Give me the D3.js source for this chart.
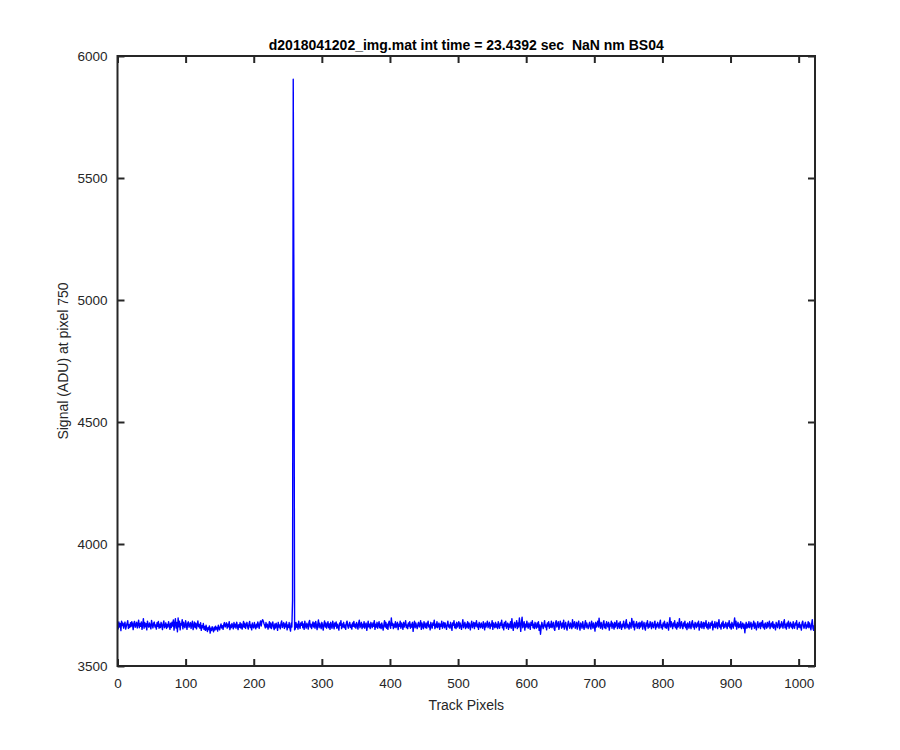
<!DOCTYPE html>
<html><head><meta charset="utf-8">
<script src="https://cdn.jsdelivr.net/npm/d3@7"></script>
<style>body{margin:0;background:#fff}text{font-family:"Liberation Sans",Arial,sans-serif;fill:#262626}</style>
</head><body>
<svg id="c" width="900" height="750"></svg>
<script>
const titleText = "d2018041202_img.mat int time = 23.4392 sec  NaN nm BS04";
const xLabel = "Track Pixels";
const yLabel = "Signal (ADU) at pixel 750";
const xTicks = [0,100,200,300,400,500,600,700,800,900,1000];
const yTicks = [3500,4000,4500,5000,5500,6000];
const xDomain = [0,1024];
const yDomain = [3500,6000];
const signal = [
3678,3652,3681,3660,3674,3645,3684,3666,3676,3655,3670,3680,3651,3664,3673,3686,3654,3669,3658,3677,3662,3682,3671,3649,3675,3683,3659,3668,3679,3656,3672,3688,
3657,3674,3663,3681,3650,3669,3694,3655,3678,3661,3673,3648,3684,3667,3659,3676,3664,3652,3687,3670,3656,3675,3680,3660,3668,3651,3677,3663,3683,3655,3671,3658,
3679,3667,3649,3673,3685,3657,3664,3677,3654,3670,3660,3682,3666,3650,3675,3658,3680,3664,3689,3647,3671,3694,3656,3678,3640,3697,3661,3684,3648,3674,3668,3690,
3652,3680,3664,3657,3686,3670,3650,3675,3681,3659,3667,3678,3654,3671,3684,3649,3664,3680,3658,3675,3652,3668,3685,3661,3670,3655,3677,3646,3665,3657,3674,3650,
3662,3646,3667,3652,3641,3658,3649,3664,3635,3655,3645,3661,3650,3640,3659,3647,3663,3651,3658,3643,3667,3654,3648,3662,3672,3656,3665,3650,3670,3678,3660,3667,
3677,3655,3671,3661,3682,3649,3668,3657,3674,3664,3652,3678,3660,3671,3655,3680,3664,3649,3669,3659,3678,3656,3672,3651,3665,3683,3659,3675,3654,3668,3679,3661,
3651,3672,3683,3658,3668,3648,3676,3661,3656,3678,3664,3652,3671,3659,3681,3667,3654,3675,3685,3664,3682,3690,3684,3674,3666,3656,3678,3660,3671,3651,3665,3682,
3657,3676,3653,3668,3681,3660,3649,3672,3656,3675,3664,3646,3679,3660,3668,3652,3675,3685,3658,3668,3678,3654,3672,3661,3681,3648,3668,3658,3678,3655,3643,3675,
3660,3768,5905,5010,3648,3652,3678,3659,3671,3651,3684,3664,3654,3676,3667,3682,3657,3672,3650,3684,3665,3655,3675,3668,3651,3678,3687,3660,3671,3653,3668,3681,
3660,3676,3655,3683,3668,3649,3671,3689,3657,3675,3664,3653,3679,3667,3647,3671,3685,3660,3676,3655,3668,3682,3657,3672,3650,3679,3664,3655,3684,3668,3652,3676,
3664,3681,3655,3671,3660,3647,3676,3667,3686,3653,3672,3660,3679,3657,3668,3650,3676,3684,3664,3655,3671,3679,3658,3668,3651,3676,3663,3683,3660,3671,3655,3678,
3668,3651,3676,3688,3657,3668,3679,3653,3671,3660,3682,3655,3668,3676,3646,3664,3684,3660,3671,3653,3679,3667,3657,3676,3663,3686,3650,3671,3660,3679,3655,3668,
3682,3657,3671,3653,3676,3664,3647,3668,3686,3660,3679,3655,3671,3650,3676,3684,3664,3655,3697,3667,3675,3653,3671,3660,3682,3657,3668,3679,3649,3671,3663,3684,
3655,3676,3667,3650,3679,3660,3671,3686,3657,3668,3653,3676,3664,3682,3655,3671,3660,3679,3642,3667,3684,3657,3676,3664,3653,3671,3679,3660,3668,3686,3650,3676,
3664,3653,3682,3667,3657,3676,3655,3671,3684,3660,3668,3648,3679,3664,3655,3676,3667,3688,3653,3671,3660,3682,3657,3668,3676,3650,3671,3663,3684,3655,3668,3679,
3657,3676,3664,3650,3671,3684,3660,3668,3655,3679,3664,3646,3676,3667,3686,3657,3671,3653,3679,3660,3668,3682,3655,3676,3664,3650,3671,3690,3657,3668,3679,3653,
3671,3660,3682,3655,3676,3667,3648,3671,3684,3657,3668,3679,3653,3676,3664,3686,3660,3671,3650,3679,3667,3657,3676,3664,3655,3682,3668,3648,3676,3660,3671,3684,
3657,3668,3679,3653,3671,3664,3686,3650,3676,3667,3657,3679,3660,3671,3653,3682,3664,3655,3676,3667,3688,3657,3671,3648,3679,3664,3684,3655,3668,3676,3650,3671,
3660,3682,3655,3694,3664,3646,3671,3679,3657,3668,3686,3653,3676,3660,3697,3671,3642,3679,3700,3657,3668,3682,3647,3671,3660,3684,3664,3655,3676,3667,3650,3679,
3667,3686,3657,3671,3653,3679,3664,3655,3676,3660,3682,3646,3668,3630,3657,3679,3664,3653,3671,3686,3660,3668,3648,3676,3664,3682,3655,3671,3660,3684,3657,3668,
3679,3653,3646,3676,3686,3660,3668,3682,3650,3664,3684,3671,3655,3676,3660,3688,3651,3668,3679,3657,3647,3671,3684,3664,3655,3676,3667,3653,3690,3660,3671,3682,
3655,3664,3679,3651,3671,3684,3660,3647,3676,3668,3655,3682,3664,3650,3671,3686,3657,3676,3664,3653,3668,3679,3660,3651,3684,3671,3655,3676,3664,3643,3679,3660,
3671,3684,3660,3696,3668,3655,3679,3664,3651,3676,3686,3657,3671,3653,3682,3668,3660,3679,3647,3671,3664,3684,3655,3676,3667,3651,3679,3660,3671,3686,3653,3668,
3676,3655,3682,3664,3650,3671,3660,3684,3667,3653,3676,3690,3657,3671,3664,3651,3679,3668,3655,3695,3676,3660,3684,3648,3671,3664,3682,3655,3668,3676,3653,3679,
3660,3671,3684,3651,3668,3679,3657,3647,3676,3664,3686,3655,3671,3660,3682,3668,3653,3679,3664,3657,3676,3684,3651,3671,3660,3679,3667,3655,3676,3688,3657,3668,
3651,3676,3664,3684,3657,3671,3655,3679,3668,3647,3676,3698,3660,3682,3668,3653,3676,3664,3686,3657,3671,3651,3679,3660,3668,3694,3655,3671,3682,3660,3653,3676,
3664,3684,3657,3671,3649,3676,3667,3655,3682,3664,3653,3676,3686,3660,3671,3651,3679,3668,3657,3676,3664,3684,3647,3671,3660,3682,3655,3668,3679,3653,3676,3664,
3686,3657,3671,3651,3679,3664,3655,3676,3667,3684,3648,3671,3660,3682,3657,3668,3679,3653,3671,3690,3660,3668,3651,3676,3664,3684,3655,3671,3660,3679,3668,3653,
3676,3664,3686,3657,3671,3651,3679,3668,3655,3676,3697,3664,3684,3651,3668,3679,3657,3671,3660,3682,3653,3668,3676,3655,3671,3636,3664,3679,3655,3671,3660,3682,
3657,3668,3679,3651,3671,3664,3684,3655,3676,3660,3648,3671,3682,3657,3668,3676,3653,3679,3664,3686,3657,3671,3651,3676,3668,3655,3679,3660,3671,3684,3653,3668,
3676,3660,3682,3655,3671,3664,3648,3679,3668,3657,3676,3686,3653,3671,3660,3682,3668,3655,3679,3690,3657,3671,3651,3676,3664,3684,3655,3668,3679,3660,3671,3653,
3682,3664,3655,3676,3668,3686,3651,3671,3660,3679,3657,3668,3647,3676,3684,3664,3655,3671,3679,3653,3668,3660,3682,3657,3676,3664,3648,3671,3690,3655,3646,3668
];

const L = 117.5, R = 815, T = 56, B = 666;
const svg = d3.select("#c");
const x = d3.scaleLinear().domain(xDomain).range([L, R]);
const y = d3.scaleLinear().domain(yDomain).range([B, T]);
const axisColor = "#262626";

svg.append("clipPath").attr("id", "clip").append("rect")
  .attr("x", L).attr("y", T).attr("width", R - L).attr("height", B - T);
svg.append("path")
  .datum(signal)
  .attr("clip-path", "url(#clip)")
  .attr("fill", "none")
  .attr("stroke", "#0000ff")
  .attr("stroke-width", 1.4)
  .attr("stroke-linejoin", "round")
  .attr("d", d3.line().x((d, i) => x(i)).y(d => y(d)));

function styleAxis(g) {
  g.select(".domain").remove();
  g.selectAll(".tick line").attr("stroke", axisColor).attr("stroke-width", 2);
  g.selectAll(".tick text").attr("font-size", "13.5px").attr("fill", axisColor)
    .style("font-family", '"Liberation Sans", Arial, sans-serif');
}
const tl = 7;
svg.append("g").attr("transform", `translate(0,${B})`)
  .call(d3.axisBottom(x).tickValues(xTicks).tickSize(-tl).tickPadding(12).tickFormat(d3.format("d")))
  .call(styleAxis);
svg.append("g").attr("transform", `translate(0,${T})`)
  .call(d3.axisTop(x).tickValues(xTicks).tickSize(-tl).tickFormat(""))
  .call(styleAxis);
svg.append("g").attr("transform", `translate(${L},0)`)
  .call(d3.axisLeft(y).tickValues(yTicks).tickSize(-tl).tickPadding(10).tickFormat(d3.format("d")))
  .call(styleAxis);
svg.append("g").attr("transform", `translate(${R},0)`)
  .call(d3.axisRight(y).tickValues(yTicks).tickSize(-tl).tickFormat(""))
  .call(styleAxis);

svg.append("rect").attr("x", L).attr("y", T).attr("width", R - L).attr("height", B - T)
  .attr("fill", "none").attr("stroke", axisColor).attr("stroke-width", 2);

svg.append("text").attr("x", (L + R) / 2).attr("y", 50).attr("text-anchor", "middle")
  .attr("font-size", "14px").attr("font-weight", "bold").style("white-space", "pre")
  .style("fill", "#000").text(titleText);
svg.append("text").attr("x", (L + R) / 2).attr("y", 710).attr("text-anchor", "middle")
  .attr("font-size", "14px").text(xLabel);
svg.append("text").attr("transform", `translate(68,${(T + B) / 2}) rotate(-90)`)
  .attr("text-anchor", "middle").attr("font-size", "14px").text(yLabel);
</script>
</body></html>
